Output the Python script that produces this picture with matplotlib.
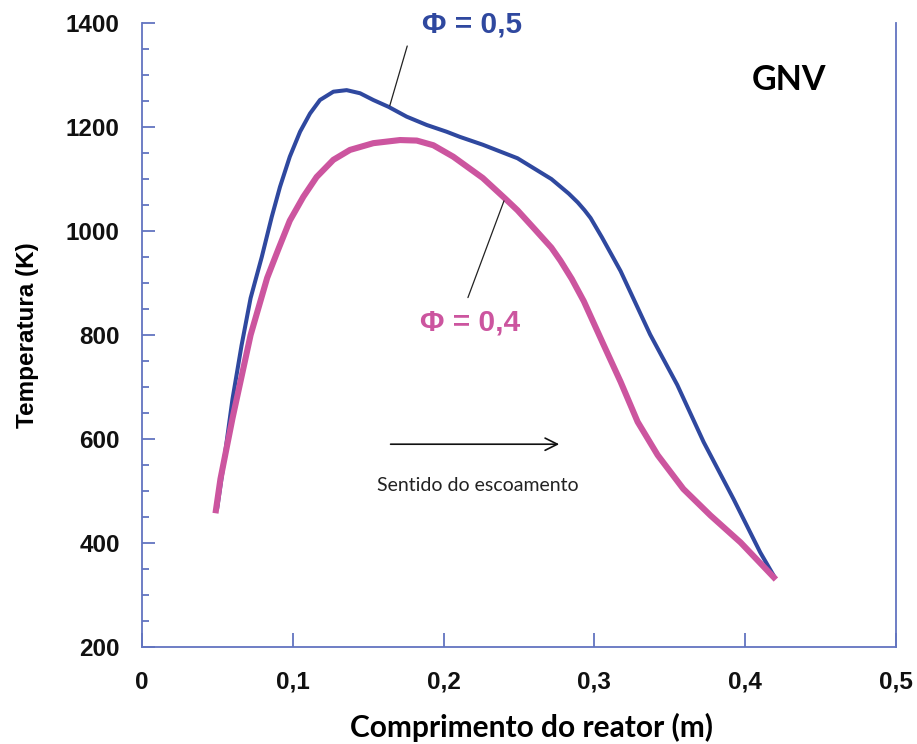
import matplotlib
matplotlib.use("Agg")
import matplotlib.pyplot as plt
from matplotlib.ticker import MultipleLocator, FuncFormatter

# Perfis de temperatura ao longo do reator (GNV)
x_phi05 = [0.050, 0.054, 0.060, 0.066, 0.072, 0.0794, 0.086, 0.0915, 0.098, 0.1048,
           0.1114, 0.118, 0.1269, 0.1357, 0.1446, 0.1534, 0.1634, 0.1755, 0.1888, 0.202,
           0.2109, 0.226, 0.249, 0.2715, 0.283, 0.289, 0.2935, 0.2975, 0.305, 0.3174,
           0.337, 0.355, 0.3725, 0.3924, 0.410, 0.419]
t_phi05 = [470, 550, 677, 780, 871, 950, 1027, 1085, 1143, 1191,
           1226, 1252, 1268, 1271, 1265, 1252, 1239, 1220, 1204, 1191,
           1181, 1166, 1140, 1100, 1072, 1055, 1040, 1025, 988, 923,
           801, 704, 594, 484, 382, 337]

x_phi04 = [0.049, 0.052, 0.060, 0.072, 0.083, 0.0904, 0.098, 0.107, 0.1158, 0.1269,
           0.1379, 0.1534, 0.1711, 0.1822, 0.1932, 0.2064, 0.226, 0.241, 0.249, 0.260,
           0.2715, 0.2775, 0.285, 0.293, 0.306, 0.3174, 0.3287, 0.342, 0.359, 0.377,
           0.397, 0.419]
t_phi04 = [463, 523, 640, 800, 910, 965, 1020, 1066, 1104, 1137,
           1156, 1169, 1175, 1174, 1165, 1143, 1102, 1062, 1040, 1005,
           968, 943, 908, 865, 782, 710, 633, 569, 504, 453,
           401, 334]

x_ticks = [0, 0.1, 0.2, 0.3, 0.4, 0.5]
y_ticks = [200, 400, 600, 800, 1000, 1200, 1400]

blue = "#2f489f"
pink = "#cc559f"
spine_col = "#6274c0"

fig = plt.figure(figsize=(9.17, 7.44), dpi=100)
ax = fig.add_axes([0.1549, 0.1304, 0.977 - 0.1549, 0.969 - 0.1304])

ax.plot(x_phi05, t_phi05, color=blue, lw=2.9, solid_joinstyle="round", zorder=3)
ax.plot(x_phi04, t_phi04, color=pink, lw=4.4, solid_joinstyle="round", zorder=4)

ax.set_xlim(0, 0.5)
ax.set_ylim(200, 1400)
ax.set_xticks(x_ticks)
ax.set_yticks(y_ticks)
ax.yaxis.set_minor_locator(MultipleLocator(50))
ax.xaxis.set_major_formatter(FuncFormatter(lambda v, p: ("%g" % v).replace(".", ",")))

for s in ["left", "bottom", "right"]:
    ax.spines[s].set_color(spine_col)
    ax.spines[s].set_linewidth(1.3)
ax.spines["top"].set_visible(False)

ax.tick_params(axis="both", which="both", direction="in", color=spine_col, width=1.3,
               top=False, right=False)
ax.tick_params(axis="y", which="major", length=9, pad=16)
ax.tick_params(axis="y", which="minor", length=5)
ax.tick_params(axis="x", which="major", length=10, pad=17)
for lab in ax.get_xticklabels() + ax.get_yticklabels():
    lab.set_fontfamily("Liberation Sans")
    lab.set_fontweight("bold")
    lab.set_fontsize(17.5)
    lab.set_color("#111111")

ax.set_ylabel("Temperatura (K)", family="Liberation Sans", fontweight="bold",
              fontsize=17.5)
ax.yaxis.set_label_coords(-0.137, 0.5)
ax.set_xlabel("Comprimento do reator (m)", family="Lato", fontweight="bold",
              fontsize=21.5)
ax.xaxis.set_label_coords(0.517, -0.105)

# rótulos das curvas com linhas de chamada
ax.annotate("", xy=(0.1638, 1236), xytext=(0.1764, 1361),
            arrowprops=dict(arrowstyle="-", color="#222222", lw=0.9), zorder=5)
ax.text(0.2188, 1398, "Φ = 0,5", color=blue, family="Liberation Sans",
        fontweight="bold", fontsize=21.5, ha="center", va="center", clip_on=False)

ax.annotate("", xy=(0.2407, 1063), xytext=(0.2155, 867),
            arrowprops=dict(arrowstyle="-", color="#222222", lw=0.9), zorder=5)
ax.text(0.2175, 825, "Φ = 0,4", color=pink, family="Liberation Sans",
        fontweight="bold", fontsize=21.5, ha="center", va="center")

ax.text(0.429, 1290, "GNV", color="black", family="Lato", fontweight="bold",
        fontsize=24.5, ha="center", va="center")

# sentido do escoamento
ax.annotate("", xy=(0.2785, 590), xytext=(0.163, 590),
            arrowprops=dict(arrowstyle="->", color="#111111", lw=1.2,
                            mutation_scale=22))
ax.text(0.2228, 511, "Sentido do escoamento", color="#222222", family="Lato",
        fontsize=14, ha="center", va="center")

fig.savefig("out.png", dpi=100)
